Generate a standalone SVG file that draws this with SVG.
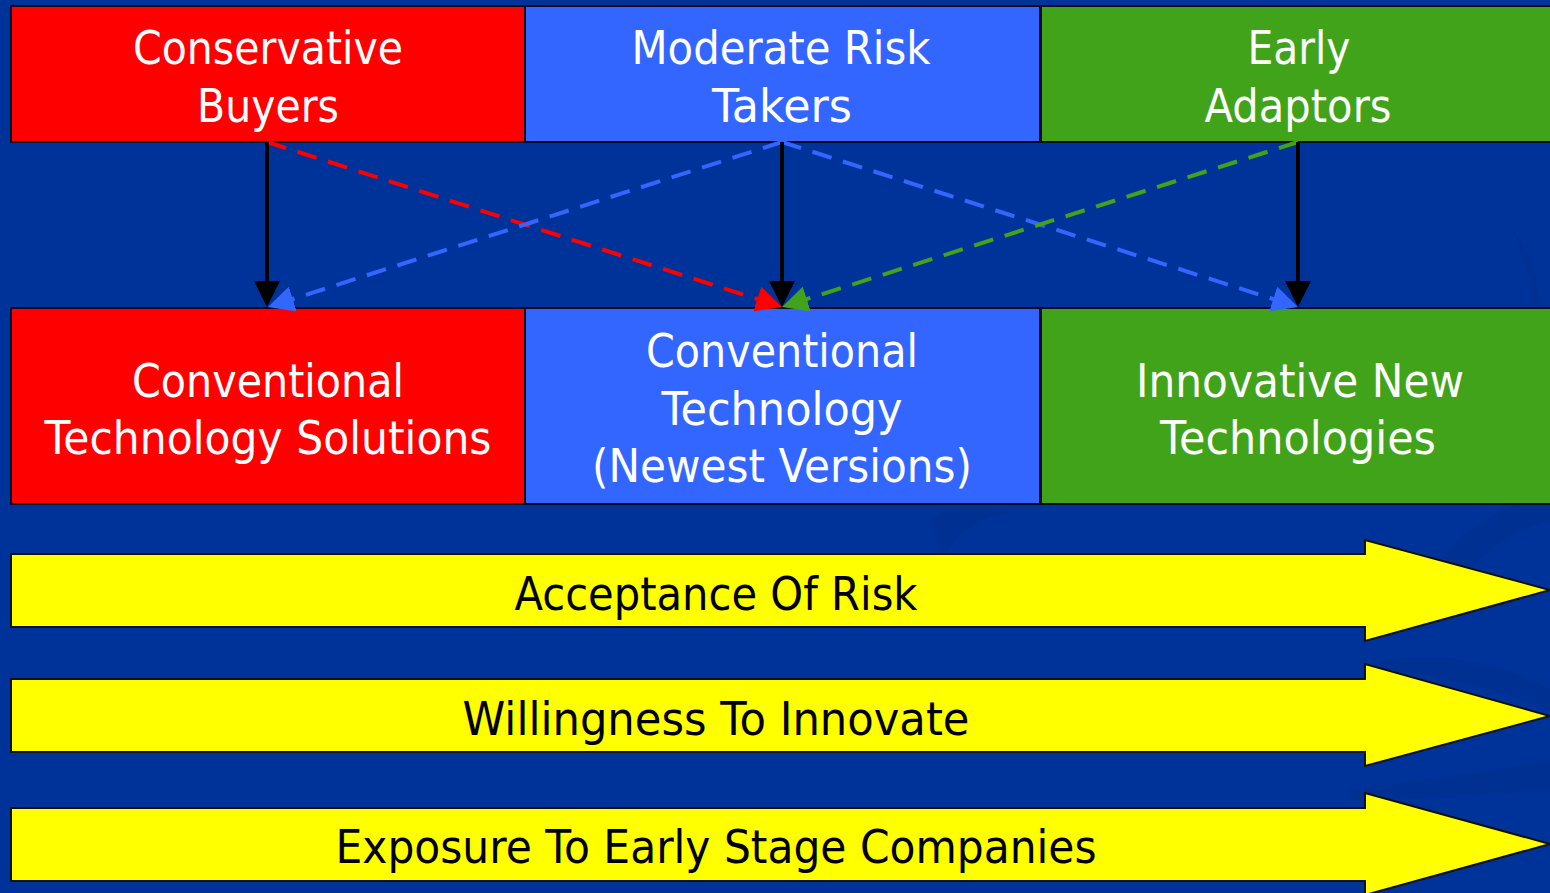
<svg xmlns="http://www.w3.org/2000/svg" width="1550" height="893" viewBox="0 0 1550 893">
  <defs>
    <style>
      .box { stroke: #0a0a20; stroke-width: 2; }
      .red { fill: #ff0000; }
      .blue { fill: #3366ff; }
      .green { fill: #40a31a; }
      .lbl { font-family: "DejaVu Sans", "Liberation Sans", sans-serif; font-size: 47px; fill: #ffffff; text-anchor: middle; }
      .ylbl { font-family: "DejaVu Sans", "Liberation Sans", sans-serif; font-size: 47px; fill: #000000; text-anchor: middle; }
      .yarrow { fill: #ffff00; stroke: #111111; stroke-width: 2; stroke-linejoin: miter; }
      .solid { stroke: #000000; stroke-width: 4; fill: none; }
      .dash { stroke-width: 4; fill: none; stroke-dasharray: 20 12; }
    </style>
    <marker id="mBlack" viewBox="0 0 26 26" refX="6" refY="13" markerWidth="26" markerHeight="26" markerUnits="userSpaceOnUse" orient="auto">
      <path d="M0,0 L26,13 L0,26 Z" fill="#000000"/>
    </marker>
    <marker id="mRed" viewBox="0 0 26 26" refX="6" refY="13" markerWidth="26" markerHeight="26" markerUnits="userSpaceOnUse" orient="auto">
      <path d="M0,0 L26,13 L0,26 Z" fill="#ff0000"/>
    </marker>
    <marker id="mBlue" viewBox="0 0 26 26" refX="6" refY="13" markerWidth="26" markerHeight="26" markerUnits="userSpaceOnUse" orient="auto">
      <path d="M0,0 L26,13 L0,26 Z" fill="#3366ff"/>
    </marker>
    <marker id="mGreen" viewBox="0 0 26 26" refX="6" refY="13" markerWidth="26" markerHeight="26" markerUnits="userSpaceOnUse" orient="auto">
      <path d="M0,0 L26,13 L0,26 Z" fill="#40a31a"/>
    </marker>
  </defs>

  <rect x="0" y="0" width="1550" height="893" fill="#003399"/>
  <g id="background-swooshes" fill="#002f8c" opacity="0.6">
    <path d="M930,520 C945,505 980,505 1010,512 C970,520 950,540 945,560 Z"/>
    <path d="M1440,560 C1470,520 1520,500 1550,495 L1550,520 C1520,530 1490,545 1470,570 Z"/>
    <path d="M1380,660 C1450,650 1520,670 1550,690 L1550,710 C1500,690 1440,675 1380,670 Z"/>
    <path d="M1350,790 C1420,780 1500,770 1550,760 L1550,790 C1480,795 1420,800 1350,800 Z"/>
    <path d="M1510,225 C1530,250 1540,280 1538,305 L1532,305 C1532,280 1522,250 1510,225 Z"/>
  </g>

  <g id="node-conservative-buyers">
    <rect class="box red" x="11" y="6" width="514" height="136"/>
    <text class="lbl" x="268" y="64" textLength="270" lengthAdjust="spacingAndGlyphs">Conservative</text>
    <text class="lbl" x="268" y="122" textLength="142" lengthAdjust="spacingAndGlyphs">Buyers</text>
  </g>
  <g id="node-moderate-risk-takers">
    <rect class="box blue" x="525" y="6" width="515" height="136"/>
    <text class="lbl" x="781" y="64" textLength="299" lengthAdjust="spacingAndGlyphs">Moderate Risk</text>
    <text class="lbl" x="782" y="122" textLength="140" lengthAdjust="spacingAndGlyphs">Takers</text>
  </g>
  <g id="node-early-adaptors">
    <rect class="box green" x="1041" y="6" width="520" height="136"/>
    <text class="lbl" x="1299" y="64" textLength="103" lengthAdjust="spacingAndGlyphs">Early</text>
    <text class="lbl" x="1298" y="122" textLength="187" lengthAdjust="spacingAndGlyphs">Adaptors</text>
  </g>

  <g id="node-conventional-solutions">
    <rect class="box red" x="11" y="308" width="514" height="196"/>
    <text class="lbl" x="268" y="397" textLength="272" lengthAdjust="spacingAndGlyphs">Conventional</text>
    <text class="lbl" x="268" y="454" textLength="447" lengthAdjust="spacingAndGlyphs">Technology Solutions</text>
  </g>
  <g id="node-conventional-newest">
    <rect class="box blue" x="525" y="308" width="515" height="196"/>
    <text class="lbl" x="782" y="367" textLength="272" lengthAdjust="spacingAndGlyphs">Conventional</text>
    <text class="lbl" x="782" y="425" textLength="241" lengthAdjust="spacingAndGlyphs">Technology</text>
    <text class="lbl" x="782" y="482" textLength="380" lengthAdjust="spacingAndGlyphs">(Newest Versions)</text>
  </g>
  <g id="node-innovative-new">
    <rect class="box green" x="1041" y="308" width="520" height="196"/>
    <text class="lbl" x="1300" y="397" textLength="328" lengthAdjust="spacingAndGlyphs">Innovative New</text>
    <text class="lbl" x="1298" y="454" textLength="276" lengthAdjust="spacingAndGlyphs">Technologies</text>
  </g>

  <g id="connectors">
    <line class="dash" stroke="#ff0000" x1="267" y1="142" x2="762.95" y2="300.9" marker-end="url(#mRed)"/>
    <line class="dash" stroke="#3366ff" x1="782" y1="142" x2="287.05" y2="300.9" marker-end="url(#mBlue)"/>
    <line class="dash" stroke="#3366ff" x1="782" y1="142" x2="1278.95" y2="300.9" marker-end="url(#mBlue)"/>
    <line class="dash" stroke="#40a31a" x1="1298" y1="142" x2="801.05" y2="300.9" marker-end="url(#mGreen)"/>
    <line class="solid" x1="267" y1="142" x2="267" y2="287" marker-end="url(#mBlack)"/>
    <line class="solid" x1="782" y1="142" x2="782" y2="287" marker-end="url(#mBlack)"/>
    <line class="solid" x1="1298" y1="142" x2="1298" y2="287" marker-end="url(#mBlack)"/>
  </g>

  <g id="node-acceptance-of-risk">
    <polygon class="yarrow" points="11,554 1365,554 1365,540 1550,590 1365,641 1365,627 11,627"/>
    <text class="ylbl" x="716" y="610" textLength="403" lengthAdjust="spacingAndGlyphs">Acceptance Of Risk</text>
  </g>
  <g id="node-willingness-to-innovate">
    <polygon class="yarrow" points="11,679 1365,679 1365,664 1550,716 1365,766 1365,752 11,752"/>
    <text class="ylbl" x="716" y="735" textLength="507" lengthAdjust="spacingAndGlyphs">Willingness To Innovate</text>
  </g>
  <g id="node-exposure-early-stage">
    <polygon class="yarrow" points="11,808 1365,808 1365,793 1550,844 1365,895 1365,881 11,881"/>
    <text class="ylbl" x="716" y="863" textLength="761" lengthAdjust="spacingAndGlyphs">Exposure To Early Stage Companies</text>
  </g>
</svg>
